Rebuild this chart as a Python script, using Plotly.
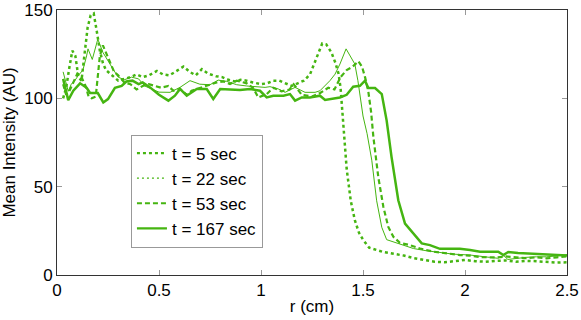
import plotly.graph_objects as go

# radial profiles, r in cm, intensity in AU
r_5 = [0.03, 0.045, 0.06, 0.075, 0.09, 0.105, 0.12, 0.135, 0.15, 0.165, 0.18, 0.195, 0.21, 0.225,
       0.24, 0.26, 0.28, 0.3, 0.33, 0.36, 0.39, 0.42, 0.45, 0.49, 0.52, 0.55, 0.58, 0.62, 0.65,
       0.68, 0.71, 0.74, 0.78, 0.81, 0.84, 0.87, 0.9, 0.93, 0.96, 1.0, 1.03, 1.06, 1.09, 1.12,
       1.15, 1.18, 1.21, 1.24, 1.27, 1.3, 1.32, 1.345, 1.365, 1.38, 1.39, 1.4, 1.41, 1.42, 1.44,
       1.46, 1.48, 1.5, 1.53, 1.57, 1.6, 1.65, 1.7, 1.75, 1.8, 1.85, 1.9, 1.95, 2.0, 2.05, 2.1,
       2.15, 2.2, 2.25, 2.3, 2.35, 2.4, 2.45, 2.5]
i_5 = [100, 106, 117, 127, 124, 112, 110, 126, 140, 147, 148, 138, 127, 120,
       116, 114, 112, 110, 111, 112, 113.5, 112, 113, 115.5, 113.5, 113, 115, 118, 115,
       113, 116.5, 114, 112.5, 112, 110.5, 109.5, 110.5, 110, 109, 108, 108.5, 110, 110, 108.5,
       107, 108.5, 110, 113.5, 122, 131, 130.5, 126, 120, 114, 106, 92, 75, 60, 42,
       31, 24, 20, 15.5, 14, 13, 12, 11, 9.5, 8.5, 7.5, 7.2, 8, 8.5, 7.8, 7.5,
       8, 8.2, 7.5, 8, 7.8, 7.2, 7, 7.2]

r_22 = [0.03, 0.045, 0.055, 0.07, 0.087, 0.105, 0.127, 0.145, 0.152, 0.173, 0.2, 0.225, 0.25,
        0.275, 0.3, 0.33, 0.365, 0.4, 0.43, 0.47, 0.5, 0.554, 0.603, 0.652, 0.7, 0.75, 0.79,
        0.832, 0.881, 0.93, 0.98, 1.02, 1.044, 1.085, 1.118, 1.167, 1.216, 1.265, 1.289, 1.314,
        1.338, 1.363, 1.387, 1.417, 1.436, 1.46, 1.475, 1.485, 1.5, 1.52, 1.543, 1.567, 1.592,
        1.616, 1.649, 1.698, 1.747, 1.812, 1.877, 1.943, 2.025, 2.07, 2.12, 2.16, 2.19, 2.21,
        2.25, 2.3, 2.35, 2.4, 2.45, 2.5]
i_22 = [115, 108, 104, 108, 110, 113, 116, 124, 128, 122, 133.5, 126, 121,
        116.5, 112, 110.5, 112, 111, 107, 105, 103.5, 103.4, 106.2, 110, 108, 107.7, 110.3,
        109.6, 107.7, 107, 106.6, 106.2, 106.6, 105.3, 103.4, 106.2, 103.4, 103.4, 104.3, 107,
        110, 113.7, 119.4, 128, 124, 119.4, 110, 103, 90, 80, 65, 42, 27,
        20, 18.8, 17, 15, 13.7, 12.6, 11.8, 11.3, 10.5, 10, 9.5, 11, 8.8,
        9.5, 10, 10.3, 10.3, 10.8, 11.5]

r_53 = [0.03, 0.045, 0.06, 0.08, 0.1, 0.12, 0.14, 0.155, 0.17, 0.19, 0.2, 0.21, 0.225, 0.24,
        0.26, 0.28, 0.3, 0.33, 0.36, 0.39, 0.42, 0.45, 0.48, 0.51, 0.546, 0.57, 0.603, 0.636,
        0.66, 0.69, 0.717, 0.75, 0.783, 0.815, 0.848, 0.881, 0.93, 0.96, 0.987, 1.028, 1.06,
        1.1, 1.14, 1.16, 1.2, 1.25, 1.29, 1.33, 1.36, 1.39, 1.42, 1.45, 1.477, 1.495, 1.51,
        1.526, 1.54, 1.551, 1.575, 1.6, 1.624, 1.649, 1.681, 1.73, 1.78, 1.845, 1.91, 1.975,
        2.025, 2.07, 2.12, 2.16, 2.2, 2.25, 2.3, 2.35, 2.4, 2.45, 2.5]
i_53 = [108, 102, 104, 109, 114, 112, 107, 101, 100, 101, 112, 124, 130, 126,
        120, 115, 113, 109, 108, 105, 107, 108, 107, 106, 107, 104.3, 105.3, 102,
        104.3, 105.5, 106.2, 107.5, 109, 109.6, 108.1, 110, 108.5, 106, 100.5, 102.4, 106,
        104, 105, 108, 102, 101, 103, 106, 105, 112, 116, 118, 121, 118, 112,
        104, 92, 78, 55.4, 38.5, 27.2, 21.6, 18.2, 16.9, 15, 13.2, 12.2, 11.3,
        11, 10.2, 10, 10, 10.5, 9.8, 9.5, 10, 9.4, 10, 10.5]

r_167 = [0.03, 0.055, 0.08, 0.113, 0.145, 0.162, 0.2, 0.227, 0.25, 0.284, 0.317, 0.34, 0.37,
         0.4, 0.42, 0.456, 0.5, 0.546, 0.578, 0.603, 0.636, 0.685, 0.734, 0.766, 0.8, 0.85,
         0.897, 0.946, 0.995, 1.028, 1.06, 1.11, 1.142, 1.167, 1.2, 1.24, 1.289, 1.314, 1.387,
         1.42, 1.452, 1.485, 1.51, 1.526, 1.559, 1.592, 1.616, 1.64, 1.673, 1.706, 1.747, 1.788,
         1.828, 1.877, 1.93, 1.975, 2.025, 2.074, 2.12, 2.163, 2.188, 2.212, 2.26, 2.319, 2.37,
         2.417, 2.46, 2.5]
i_167 = [111, 99, 104.3, 108.5, 106, 103, 103, 97.7, 99.6, 106, 107, 109.5, 110,
         108, 109, 106.2, 102, 98.7, 101.5, 105.3, 101.5, 105.3, 105.3, 99.6, 105.3, 104.8,
         104.7, 105.3, 104.3, 100.5, 101.5, 101.5, 102.4, 98.7, 100.5, 100.5, 101.5, 99.1, 100.5,
         102, 106.6, 107.1, 110, 105.8, 105.8, 102.4, 87.4, 66.7, 42.3, 29.1, 23.5, 17.9,
         16.9, 14.8, 14.8, 14.8, 14.1, 13.2, 13.2, 13.2, 11.3, 13, 12.5, 12.2, 12,
         11.7, 11.3, 11.1]

labels = ["t = 5 sec", "t = 22 sec", "t = 53 sec", "t = 167 sec"]

GREEN = "#45b511"
FONT = "Liberation Sans, Arial, Helvetica, sans-serif"
FS = 17

# (plot dash, plot width, legend dash, legend width)
styles = [
    ("3px,3px", 2.5, "3px,3px", 2.2),
    ("solid", 1.0, "2px,3px", 1.3),
    ("5px,3px", 2.2, "5px,3px", 2.0),
    ("solid", 2.5, "solid", 2.2),
]

fig = go.Figure()
series = [(r_5, i_5), (r_22, i_22), (r_53, i_53), (r_167, i_167)]
for (r, inten), (dash, w, _, _) in zip(series, styles):
    fig.add_trace(go.Scatter(x=r, y=inten, mode="lines", showlegend=False,
                             line=dict(color=GREEN, width=w, dash=dash)))

# legend samples drawn the way the original legend shows them
for name, (_, _, ldash, lw) in zip(labels, styles):
    fig.add_trace(go.Scatter(x=[None], y=[None], mode="lines", name=name,
                             line=dict(color=GREEN, width=lw, dash=ldash)))

axis_common = dict(
    showline=True, linecolor="#333333", linewidth=1, mirror="ticks",
    ticks="inside", ticklen=5, tickcolor="#999999", showgrid=False, zeroline=False,
    automargin=False,
    tickfont=dict(size=FS, color="black", family=FONT),
)
fig.update_xaxes(range=[0, 2.5], tickvals=[0, 0.5, 1, 1.5, 2, 2.5],
                 ticktext=["0", "0.5", "1", "1.5", "2", "2.5"],
                 title=dict(text="r (cm)", font=dict(size=FS, family=FONT, color="black"), standoff=0),
                 **axis_common)
fig.update_yaxes(range=[0, 150], tickvals=[0, 50, 100, 150],
                 ticktext=["0", "50", "100", "150"],
                 title=dict(text="Mean Intensity (AU)", font=dict(size=FS, family=FONT, color="black"), standoff=6),
                 **axis_common)

fig.update_layout(
    width=581, height=320,
    margin=dict(l=57, r=14, t=10, b=45),
    plot_bgcolor="white", paper_bgcolor="white",
    font=dict(family=FONT, size=FS, color="black"),
    legend=dict(x=0.145, y=0.53, xanchor="left", yanchor="top",
                bgcolor="white", bordercolor="#999999", borderwidth=1,
                font=dict(size=FS), tracegroupgap=0, itemwidth=30),
)

# page body margin would otherwise shift the 581x320 figure inside the window
fig.write_html("out.html", config={"displayModeBar": False},
               post_script="document.body.style.margin='0';document.body.style.overflow='hidden';")
